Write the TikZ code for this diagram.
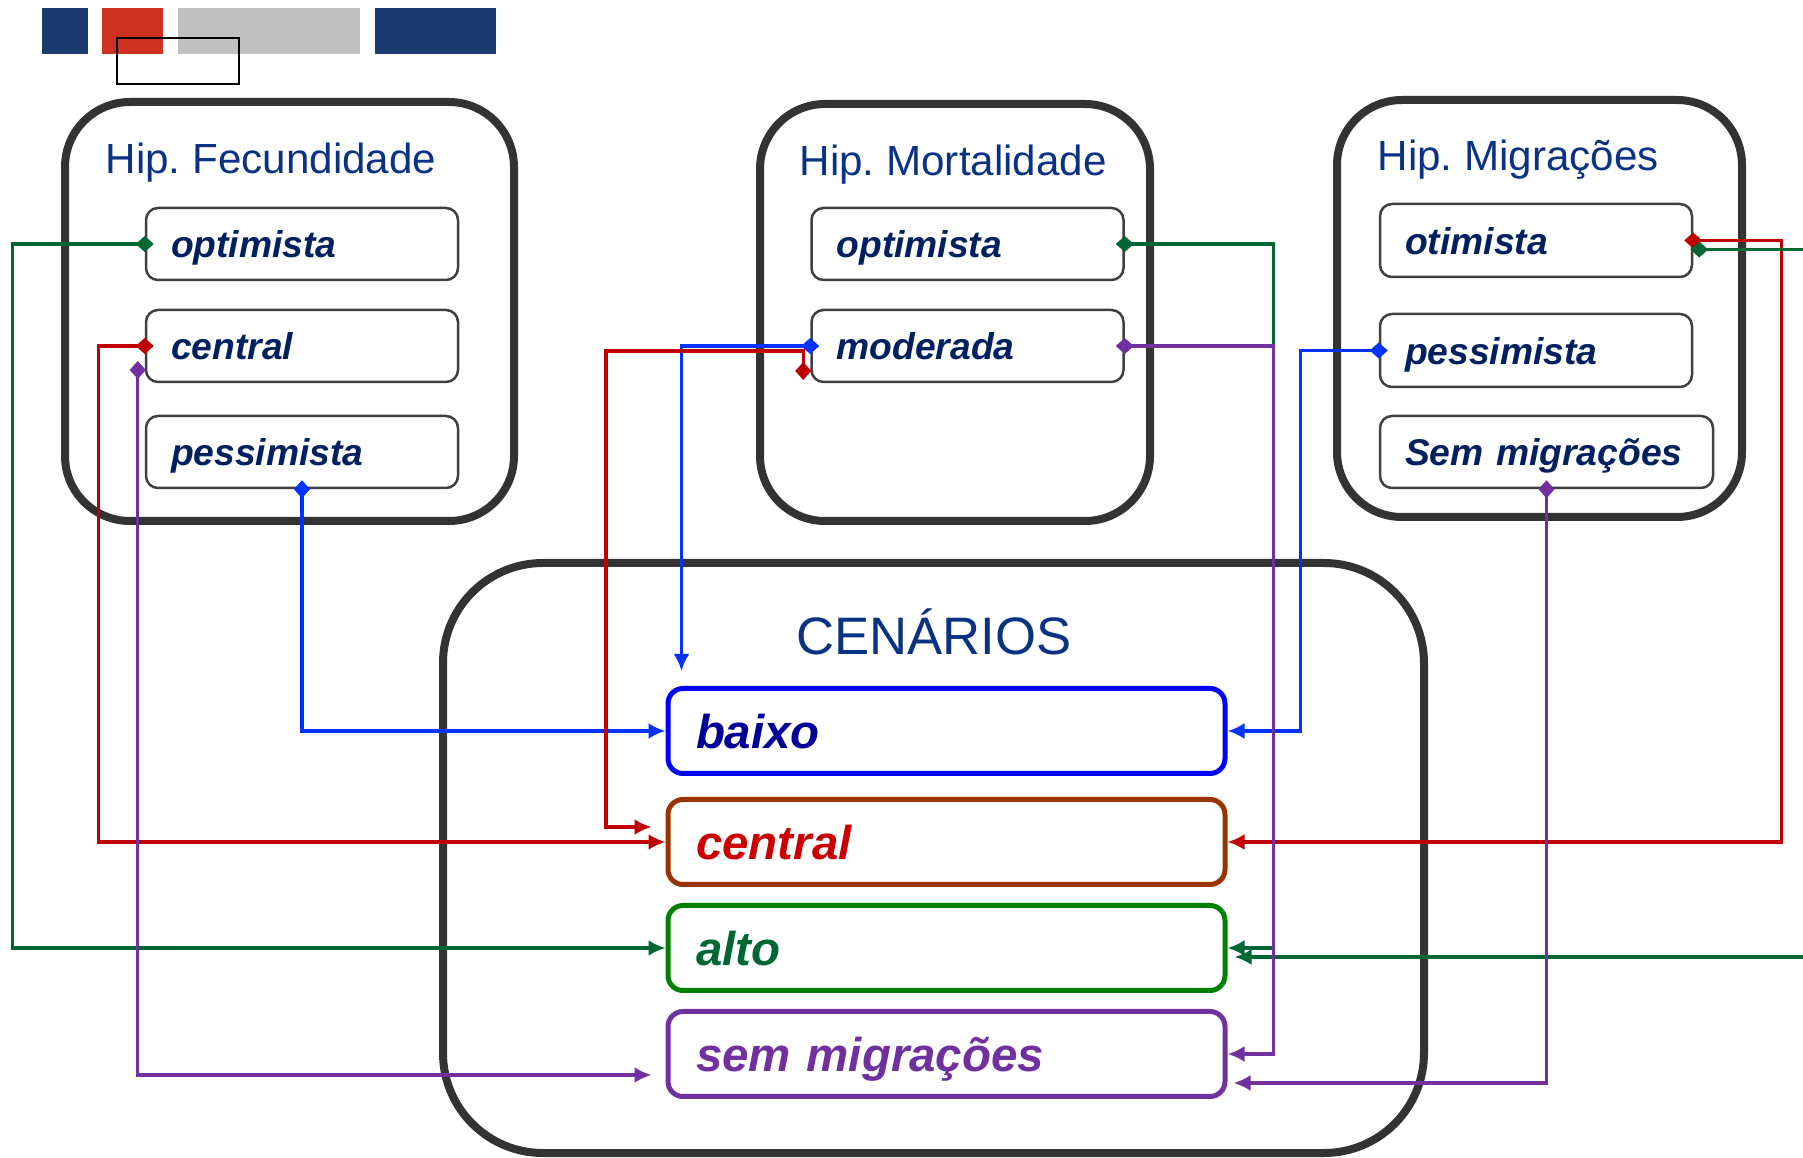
\documentclass[tikz,border=0pt]{standalone}
\usepackage{fontspec}
\setmainfont{Liberation Sans}
\frenchspacing
\usetikzlibrary{arrows.meta,calc}

\definecolor{decoblue}{HTML}{1B3A6E}
\definecolor{decored}{HTML}{CF3120}
\definecolor{decogray}{HTML}{C0C0C0}
\definecolor{groupgray}{HTML}{333333}
\definecolor{optiongray}{HTML}{404040}
\definecolor{titleblue}{HTML}{0A3284}
\definecolor{optionblue}{HTML}{002060}
\definecolor{baixotext}{HTML}{000099}
\definecolor{baixoline}{HTML}{0000FF}
\definecolor{centraltext}{HTML}{CC0000}
\definecolor{centralline}{HTML}{993300}
\definecolor{altotext}{HTML}{006633}
\definecolor{altoline}{HTML}{008000}
\definecolor{semcolor}{HTML}{7030A0}
\definecolor{linkblue}{HTML}{0033FF}
\definecolor{linkred}{HTML}{C00000}
\definecolor{linkgreen}{HTML}{006633}
\definecolor{linkpurple}{HTML}{7030A0}

\tikzset{
   link/.style = {{Diamond[length=1.8mm,width=1.6mm]}-{Latex[length=1.7mm,width=1.6mm]}, line width=0.33mm, shorten <=-0.9mm},
   group/.style = {draw=groupgray, line width=0.8mm, rounded corners=6.5mm},
   grouptitle/.style = {anchor=base west, inner sep=0pt, text=titleblue, font=\fontsize{12pt}{14pt}\selectfont},
   option/.style = {draw=optiongray, line width=0.25mm, rounded corners=1.2mm, minimum height=7.2mm,
                    inner xsep=2.5mm, text width=26.2mm, align=left, text height=7.7pt, text depth=0pt,
                    text=optionblue, font=\fontsize{10.6pt}{12pt}\selectfont\bfseries\itshape},
   scenario/.style = {line width=0.5mm, rounded corners=1.5mm, minimum height=8.5mm,
                      inner xsep=2.8mm, text width=50.1mm, align=left, text height=9.9pt, text depth=0pt,
                      font=\fontsize{13.5pt}{16pt}\selectfont\bfseries\itshape},
}

\begin{document}
\begin{tikzpicture}

      \useasboundingbox (0mm,0mm) rectangle (180.3mm,-115.8mm);
      \clip (0mm,0mm) rectangle (180.3mm,-115.8mm);

      \fill[decoblue] (4.2mm,-0.8mm) rectangle (8.8mm,-5.4mm);
      \fill[decored]  (10.2mm,-0.8mm) rectangle (16.3mm,-5.4mm);
      \fill[decogray] (17.8mm,-0.8mm) rectangle (36.0mm,-5.4mm);
      \fill[decoblue] (37.5mm,-0.8mm) rectangle (49.6mm,-5.4mm);
      \draw[line width=0.2mm] (11.7mm,-3.8mm) rectangle (23.9mm,-8.4mm);

      \node[group, minimum width=44.9mm, minimum height=41.9mm] (fec)  at (28.95mm,-31.15mm) {};
      \node[group, minimum width=39.0mm, minimum height=41.7mm] (mort) at (95.5mm,-31.25mm) {};
      \node[group, minimum width=40.5mm, minimum height=41.7mm] (mig)  at (153.95mm,-30.85mm) {};
      \node[group, minimum width=98.1mm, minimum height=59.0mm, rounded corners=10mm] (cen) at (93.35mm,-85.8mm) {};

      \node[grouptitle] (fectitle)  at (10.5mm,-17.4mm)  {Hip. Fecundidade};
      \node[grouptitle] (morttitle) at (79.9mm,-17.6mm)  {Hip. Mortalidade};
      \node[grouptitle] (migtitle)  at (137.7mm,-17.1mm) {Hip. Migrações};
      \node[grouptitle, anchor=base, font=\fontsize{15pt}{18pt}\selectfont] (centitle) at (93.4mm,-65.5mm) {CENÁRIOS};

      \node[option] (fopt) at (30.2mm,-24.4mm) {optimista};
      \node[option] (fcen) at (30.2mm,-34.6mm) {central};
      \node[option] (fpes) at (30.2mm,-45.2mm) {pessimista};

      \node[option] (mopt) at (96.75mm,-24.4mm) {optimista};
      \node[option] (mmod) at (96.75mm,-34.6mm) {moderada};

      \node[option, minimum height=7.3mm] (motim) at (153.6mm,-24.05mm) {otimista};
      \node[option, minimum height=7.3mm] (mpes)  at (153.6mm,-35.05mm) {pessimista};
      \node[option, text width=28.3mm]    (msem)  at (154.65mm,-45.2mm) {Sem migrações};

      \node[scenario, draw=baixoline,   text=baixotext]   (baixo)   at (94.65mm,-73.1mm)  {baixo};
      \node[scenario, draw=centralline, text=centraltext] (central) at (94.65mm,-84.2mm)  {central};
      \node[scenario, draw=altoline,    text=altotext]    (alto)    at (94.65mm,-94.8mm)  {alto};
      \node[scenario, draw=semcolor,    text=semcolor]    (sem)     at (94.65mm,-105.4mm) {sem migrações};

      \draw[link, linkblue] (fpes.south) |- (baixo.west);
      \draw[link, linkblue] (mpes.west) -- ++(-7.8mm,0) |- (baixo.east);
      \draw[link, linkblue] (mmod.west) -| ($(baixo.north west)+(1.6mm,1.5mm)$);

      \draw[link, linkred] (fcen.west) -- ++(-4.6mm,0) |- (central.west);
      \draw[link, linkred] ($(mmod.west)+(-0.7mm,-2.5mm)$) |- (60.6mm,-35.1mm) |- ($(central.west)+(-1.4mm,1.5mm)$);
      \draw[link, linkred] (motim.east) -- ++(8.8mm,0) |- (central.east);

      \draw[link, linkgreen] (fopt.west) -- ++(-13.2mm,0) |- (alto.west);
      \draw[link, linkgreen] (mopt.east) -- ++(14.9mm,0) |- (alto.east);
      \draw[link, linkgreen] ($(motim.east)+(0.6mm,-0.9mm)$) -- ++(20mm,0) |- ($(alto.east)+(0.7mm,-0.9mm)$);

      \draw[link, linkpurple] ($(fcen.west)+(-0.7mm,-2.4mm)$) |- ($(sem.west)+(-1.4mm,-2.1mm)$);
      \draw[link, linkpurple] (mmod.east) -- ++(14.9mm,0) |- (sem.east);
      \draw[link, linkpurple] (msem.south) |- ($(sem.east)+(0.6mm,-2.9mm)$);

\end{tikzpicture}
\end{document}
